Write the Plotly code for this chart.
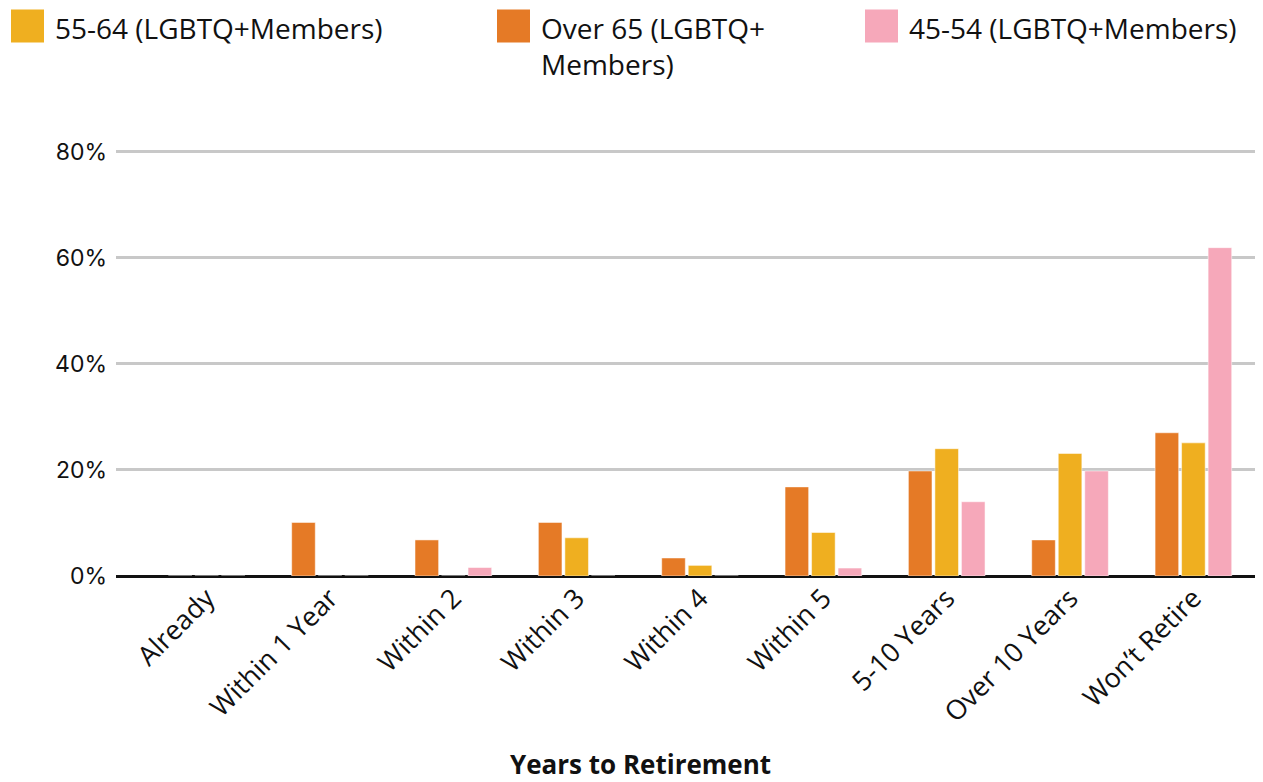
import plotly.graph_objects as go

# data
categories = ["Already", "Within 1 Year", "Within 2", "Within 3", "Within 4",
              "Within 5", "5-10 Years", "Over 10 Years", "Won’t Retire"]
over_65 = [0, 10.1, 6.8, 10.1, 3.4, 16.8, 19.8, 6.8, 27.0]
age_55_64 = [0, 0, 0, 7.2, 2.0, 8.2, 24.0, 23.1, 25.1]
age_45_54 = [0, 0, 1.6, 0, 0, 1.5, 14.0, 19.8, 61.9]

series_names = ["Over 65 (LGBTQ+ Members)", "55-64 (LGBTQ+Members)", "45-54 (LGBTQ+Members)"]
series_values = [over_65, age_55_64, age_45_54]
colors = ["#E57A26", "#EFAF20", "#F6A8BA"]

legend_order = [1, 0, 2]
legend_labels = ["55-64 (LGBTQ+Members)", "Over 65 (LGBTQ+<br>Members)", "45-54 (LGBTQ+Members)"]
legend_x = [11, 497, 865]

y_ticks = [0, 20, 40, 60, 80]
y_labels = ["0%", "20%", "40%", "60%", "80%"]

# the page puts the figure 8px in from the top-left corner
OFF = 8
W, H = 1263 - OFF, 782 - OFF
L, R, T, B = 116 - OFF, 3, 149.35 - OFF, 782 - 576
FONT = "Open Sans"


def px_x(p):
    return (p - OFF - L) / (W - L - R)


def px_y(p):
    return (H - B - (p - OFF)) / (H - T - B)


fig = go.Figure()
for name, vals, col in zip(series_names, series_values, colors):
    fig.add_trace(go.Bar(x=categories, y=vals, name=name, marker_color=col,
                         marker_line=dict(color="rgba(255,255,255,0.5)", width=1),
                         showlegend=False))

shapes = []
annotations = []
for i, k in enumerate(legend_order):
    x0 = legend_x[i]
    shapes.append(dict(type="rect", xref="paper", yref="paper",
                       x0=px_x(x0), x1=px_x(x0 + 33), y0=px_y(43), y1=px_y(10),
                       fillcolor=colors[k], line_width=0))
    annotations.append(dict(xref="paper", yref="paper", x=px_x(x0 + 42), y=px_y(7),
                            xanchor="left", yanchor="top", align="left", showarrow=False,
                            text=legend_labels[i], font=dict(family=FONT, size=28, color="#111")))

annotations.append(dict(xref="paper", yref="paper", x=px_x(640), y=px_y(764),
                        xanchor="center", yanchor="middle", showarrow=False,
                        text="<b>Years to Retirement</b>",
                        font=dict(family=FONT, size=26, color="#111")))

fig.update_layout(
    width=W, height=H,
    margin=dict(l=L, r=R, t=T, b=B),
    plot_bgcolor="white", paper_bgcolor="white",
    barmode="group", bargap=0.355, bargroupgap=0.11,
    shapes=shapes, annotations=annotations,
    xaxis=dict(range=[-0.735, 8.54], tickangle=-45, showgrid=False, showline=False,
               tickfont=dict(family=FONT, size=27, color="#111"), ticks=""),
    yaxis=dict(range=[0, 80.5], tickvals=y_ticks, ticktext=y_labels,
               gridcolor="#C8C8C8", gridwidth=2.5, zeroline=True, zerolinecolor="#111",
               zerolinewidth=3, ticks="", ticklabelstandoff=8,
               tickfont=dict(family="Inter", size=23, color="#111")),
)

fig.write_html("out.html")
